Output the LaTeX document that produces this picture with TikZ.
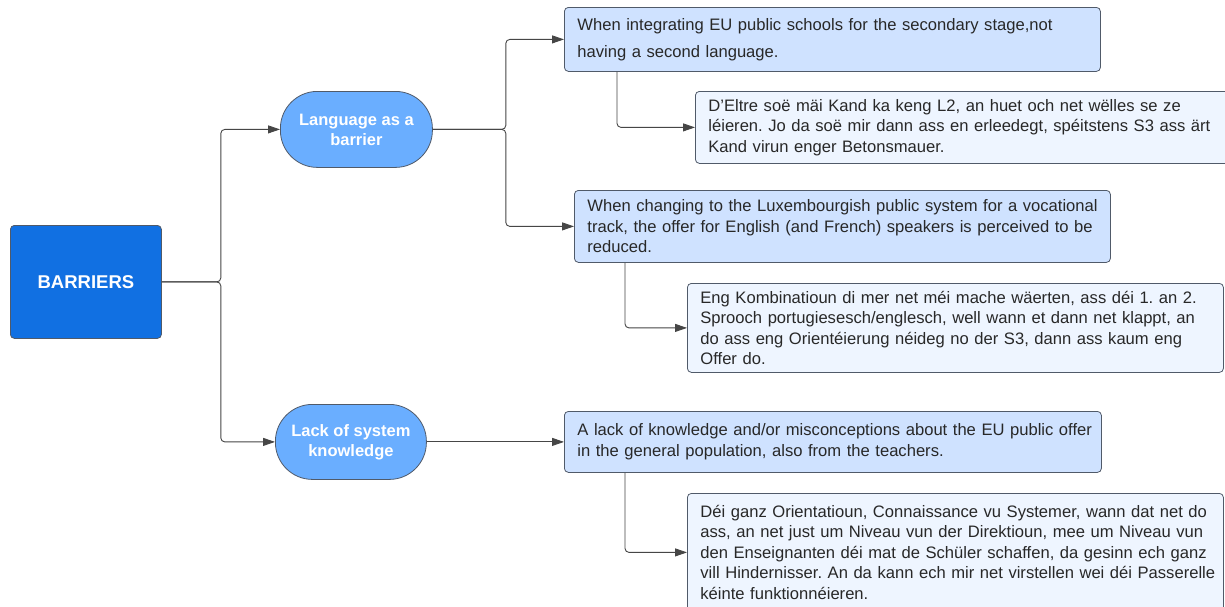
\documentclass[tikz,border=0pt]{standalone}
\usepackage{fontspec}
\setmainfont{Liberation Sans}
\usetikzlibrary{arrows.meta}
\definecolor{bdark}{RGB}{17,112,226}
\definecolor{bmid}{RGB}{106,174,255}
\definecolor{blone}{RGB}{207,226,255}
\definecolor{bltwo}{RGB}{238,245,255}
\definecolor{edgec}{RGB}{80,90,105}
\definecolor{txtc}{RGB}{40,40,40}
\definecolor{wirec}{RGB}{70,70,70}
\frenchspacing
\begin{document}
\begin{tikzpicture}[x=1pt,y=-1pt,
  rootbox/.style={draw=edgec, fill=bdark, rounded corners=4pt, line width=0.8pt,
    minimum width=151pt, minimum height=113pt, text=white, anchor=north west,
    font=\bfseries\fontsize{18.5}{22}\selectfont},
  catbox/.style={draw=edgec, fill=bmid, rounded corners=37pt, line width=0.8pt,
    minimum width=152pt, minimum height=76pt, text=white, align=center, anchor=north west,
    font=\bfseries\fontsize{16.5}{20}\selectfont},
  tbox/.style={draw=edgec, rounded corners=4pt, line width=0.8pt, anchor=north west,
    inner xsep=13pt, inner ysep=4pt, text width=510pt, align=left, text=txtc,
    font=\fontsize{16.6}{20.5}\selectfont},
  enbox/.style={tbox, fill=blone},
  lbbox/.style={tbox, fill=bltwo},
  conn/.style={draw=wirec, line width=0.9pt, rounded corners=4pt,
    -{Triangle[length=12pt,width=8pt]}}
]
\clip (0,0) rectangle (1225,606);
\fill[white] (0,0) rectangle (1225,606);

\node[rootbox] (root) at (10,225) {BARRIERS};
\node[catbox] (lang) at (280,91) {Language as a\\barrier};
\node[catbox, minimum width=151pt, minimum height=75pt] (lack) at (275,404) {Lack of system\\knowledge};

\node[enbox, minimum height=64pt, font=\fontsize{16.6}{27}\selectfont] (b1) at (564,7)
  {\mbox{When integrating EU public schools for the secondary stage,not}\\\mbox{having a second language.}};
\node[lbbox, minimum height=72pt] (b2) at (695,91)
  {\mbox{D'Eltre soë mäi Kand ka keng L2, an huet och net wëlles se ze}\\\mbox{léieren. Jo da soë mir dann ass en erleedegt, spéitstens S3 ass ärt}\\\mbox{Kand virun enger Betonsmauer.}};
\node[enbox, minimum height=72pt] (b3) at (574,190)
  {\mbox{When changing to the Luxembourgish public system for a vocational}\\\mbox{track, the offer for English (and French) speakers is perceived to be}\\\mbox{reduced.}};
\node[lbbox, minimum height=89pt] (b4) at (687,283)
  {\mbox{Eng Kombinatioun di mer net méi mache wäerten, ass déi 1. an 2.}\\\mbox{Sprooch portugiesesch/englesch, well wann et dann net klappt, an}\\\mbox{do ass eng Orientéierung néideg no der S3, dann ass kaum eng}\\\mbox{Offer do.}};
\node[enbox, minimum height=61pt, text width=511pt] (b5) at (564,411)
  {\mbox{A lack of knowledge and/or misconceptions about the EU public offer}\\\mbox{in the general population, also from the teachers.}};
\node[lbbox, minimum height=118pt] (b6) at (687,493)
  {\mbox{Déi ganz Orientatioun, Connaissance vu Systemer, wann dat net do}\\\mbox{ass, an net just um Niveau vun der Direktioun, mee um Niveau vun}\\\mbox{den Enseignanten déi mat de Schüler schaffen, da gesinn ech ganz}\\\mbox{vill Hindernisser. An da kann ech mir net virstellen wei déi Passerelle}\\\mbox{kéinte funktionnéieren.}};

\draw[conn] (root.east) -- ++(59,0) |- (lang.west);
\draw[conn] (root.east) -- ++(59,0) |- (lack.west);
\draw[conn] (lang.east) -- ++(73,0) |- (b1.west);
\draw[conn] (lang.east) -- ++(73,0) |- (b3.west);
\draw[conn] (lack.east) -- (b5.west);
\draw[conn] ([xshift=53pt]b1.south west) |- (b2.west);
\draw[conn] ([xshift=51pt]b3.south west) |- (b4.west);
\draw[conn] ([xshift=61pt]b5.south west) |- (b6.west);
\end{tikzpicture}
\end{document}
